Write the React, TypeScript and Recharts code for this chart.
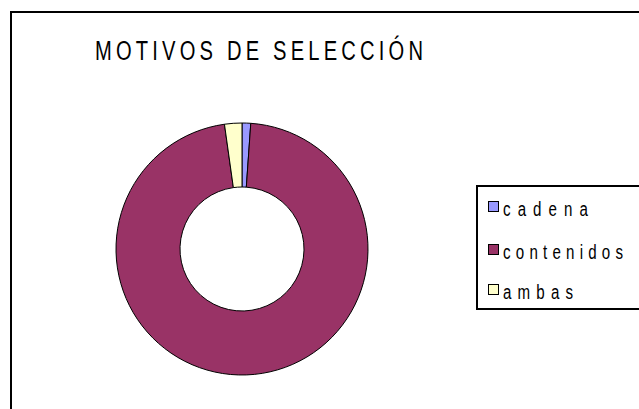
import React from "react";
import { PieChart, Pie, Cell, Legend } from "recharts";

// Motivos de selección — counts
const categories = ["cadena", "contenidos", "ambas"];
const values = [1, 87, 2];
const colors = ["#9999FF", "#993366", "#FFFFCC"];
// legend label widths (the original uses a very condensed, spaced font)
const labelWidths = [85, 120, 70];

const data = categories.map((name, i) => ({ name, value: values[i], color: colors[i] }));

const FONT = "'Liberation Sans', Arial, sans-serif";
const SQUEEZE = 0.72;

// condensed + letter-spaced text, like the old Excel export
function NarrowText({ x, y, size, width, children }: { x: number; y: number; size: number; width: number; children: string }) {
  return (
    <text
      transform={`translate(${x},${y}) scale(${SQUEEZE},1)`}
      x={0}
      y={0}
      fontSize={size}
      fontFamily={FONT}
      fill="#000"
      textLength={width / SQUEEZE}
      lengthAdjust="spacing"
    >
      {children}
    </text>
  );
}

function BoxLegend() {
  const rowBase = [31, 74, 114];
  return (
    <svg width={170} height={126} style={{ display: "block" }}>
      <rect x={1} y={1} width={180} height={123} fill="#fff" stroke="#000" strokeWidth={2} />
      {data.map((d, i) => (
        <g key={d.name}>
          <rect x={12.5} y={rowBase[i] - 14.5} width={10} height={10} fill={d.color} stroke="#000" strokeWidth={1} />
          <NarrowText x={27} y={rowBase[i]} size={21} width={labelWidths[i]}>
            {d.name}
          </NarrowText>
        </g>
      ))}
    </svg>
  );
}

export default function App() {
  return (
    <div
      style={{
        position: "absolute",
        left: 0,
        top: 0,
        width: 639,
        height: 409,
        overflow: "hidden",
        background: "#fff",
      }}
    >
      {/* outer chart frame, clipped on the right and bottom like the original */}
      <div
        style={{
          position: "absolute",
          left: 10,
          top: 11,
          width: 660,
          height: 430,
          border: "2px solid #000",
        }}
      />
      <svg width={639} height={80} style={{ position: "absolute", left: 0, top: 0 }}>
        <NarrowText x={95} y={60} size={28} width={328}>
          MOTIVOS DE SELECCIÓN
        </NarrowText>
      </svg>
      <div style={{ position: "absolute", left: 0, top: 0 }}>
        <PieChart width={639} height={409} margin={{ top: 0, right: 0, bottom: 0, left: 0 }}>
          <Pie
            data={data}
            dataKey="value"
            nameKey="name"
            cx={242}
            cy={249}
            innerRadius={62}
            outerRadius={126}
            startAngle={90}
            endAngle={-270}
            stroke="#000"
            strokeWidth={1}
            isAnimationActive={false}
          >
            {data.map((d) => (
              <Cell key={d.name} fill={d.color} />
            ))}
          </Pie>
          <Legend
            content={<BoxLegend />}
            layout="vertical"
            wrapperStyle={{ position: "absolute", left: 476, top: 185, width: 170, height: 126 }}
          />
        </PieChart>
      </div>
    </div>
  );
}
